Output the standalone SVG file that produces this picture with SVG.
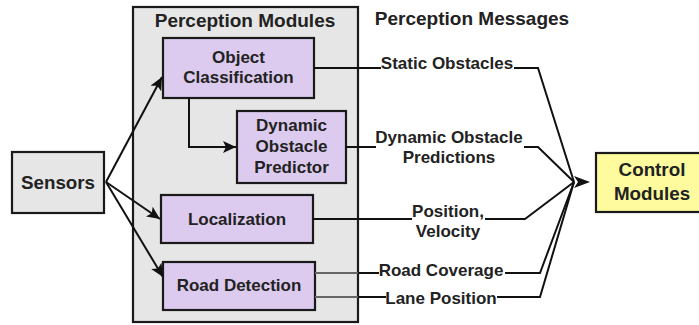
<svg xmlns="http://www.w3.org/2000/svg" width="699" height="325" viewBox="0 0 699 325">
  <defs>
    <style>
      .box { stroke: #1a1a1a; stroke-width: 2.2; }
      .grey { fill: #e6e6e6; }
      .module { fill: #dccbee; }
      .target { fill: #fdfb9e; }
      .lbl { font-family: "Liberation Sans", Arial, sans-serif; font-weight: bold; font-size: 17px; fill: #222; text-anchor: middle; }
      .head { font-size: 19px; }
      .big { font-size: 18.8px; }
      .wire { fill: none; stroke: #111; stroke-width: 2; }
      .thin { fill: none; stroke: #666; stroke-width: 2; }
    </style>
    <marker id="arrow" markerUnits="userSpaceOnUse" markerWidth="14" markerHeight="12" refX="13" refY="6" orient="auto">
      <path d="M0,0 L13,6 L0,12 L3,6 Z" fill="#111"/>
    </marker>
  </defs>

  <!-- container of the perception stage -->
  <g id="perception-modules">
    <rect class="box grey" x="133" y="7" width="225" height="315"/>
    <text class="lbl head" x="245" y="27">Perception Modules</text>
  </g>

  <text class="lbl head" x="472" y="25">Perception Messages</text>

  <g id="sensors">
    <rect class="box grey" x="12" y="152" width="92" height="61"/>
    <text class="lbl big" x="58" y="189">Sensors</text>
  </g>

  <g id="object-classification">
    <rect class="box module" x="163" y="38" width="151" height="60"/>
    <text class="lbl" x="238.5" y="63">Object</text>
    <text class="lbl" x="238.5" y="83">Classification</text>
  </g>

  <g id="dynamic-obstacle-predictor">
    <rect class="box module" x="237" y="111" width="109" height="72"/>
    <text class="lbl" x="291.5" y="131">Dynamic</text>
    <text class="lbl" x="291.5" y="152">Obstacle</text>
    <text class="lbl" x="291.5" y="173">Predictor</text>
  </g>

  <g id="localization">
    <rect class="box module" x="161" y="195" width="152" height="48"/>
    <text class="lbl" x="237" y="225">Localization</text>
  </g>

  <g id="road-detection">
    <rect class="box module" x="163" y="262" width="152" height="48"/>
    <text class="lbl" x="239" y="291">Road Detection</text>
  </g>

  <g id="control-modules">
    <rect class="box target" x="596" y="153" width="106" height="59"/>
    <text class="lbl big" x="652" y="176">Control</text>
    <text class="lbl big" x="652" y="200">Modules</text>
  </g>

  <g id="connectors">
    <!-- sensor fan-out -->
    <path class="wire" d="M106,182 L162,77" marker-end="url(#arrow)"/>
    <path class="wire" d="M106,182 L160,219" marker-end="url(#arrow)"/>
    <path class="wire" d="M106,182 L163,277" marker-end="url(#arrow)"/>
    <path class="wire" d="M189,98 V147 H236" marker-end="url(#arrow)"/>

    <!-- message lines into the control stage -->
    <path class="wire" d="M314,68 H381"/>
    <path class="wire" d="M514,68 H538 L574,182"/>
    <text class="lbl" x="447" y="69">Static Obstacles</text>

    <path class="wire" d="M346,147 H376"/>
    <path class="wire" d="M524,147 H538 L574,182"/>
    <text class="lbl" x="449" y="143">Dynamic Obstacle</text>
    <text class="lbl" x="449" y="163">Predictions</text>

    <path class="wire" d="M313,219 H412"/>
    <path class="wire" d="M485,219 H525 L574,182"/>
    <text class="lbl" x="448" y="217">Position,</text>
    <text class="lbl" x="448" y="237">Velocity</text>

    <path class="thin" d="M315,273 H358"/>
    <path class="wire" d="M358,273 H379"/>
    <path class="wire" d="M505,273 H540 L574,182"/>
    <text class="lbl" x="441" y="276">Road Coverage</text>

    <path class="thin" d="M315,297 H358"/>
    <path class="wire" d="M358,297 H386"/>
    <path class="wire" d="M497,297 H540 L574,182"/>
    <text class="lbl" x="441" y="304">Lane Position</text>

    <path d="M574,176 L590,182 L574,188 L578,182 Z" fill="#111"/>
  </g>
</svg>
